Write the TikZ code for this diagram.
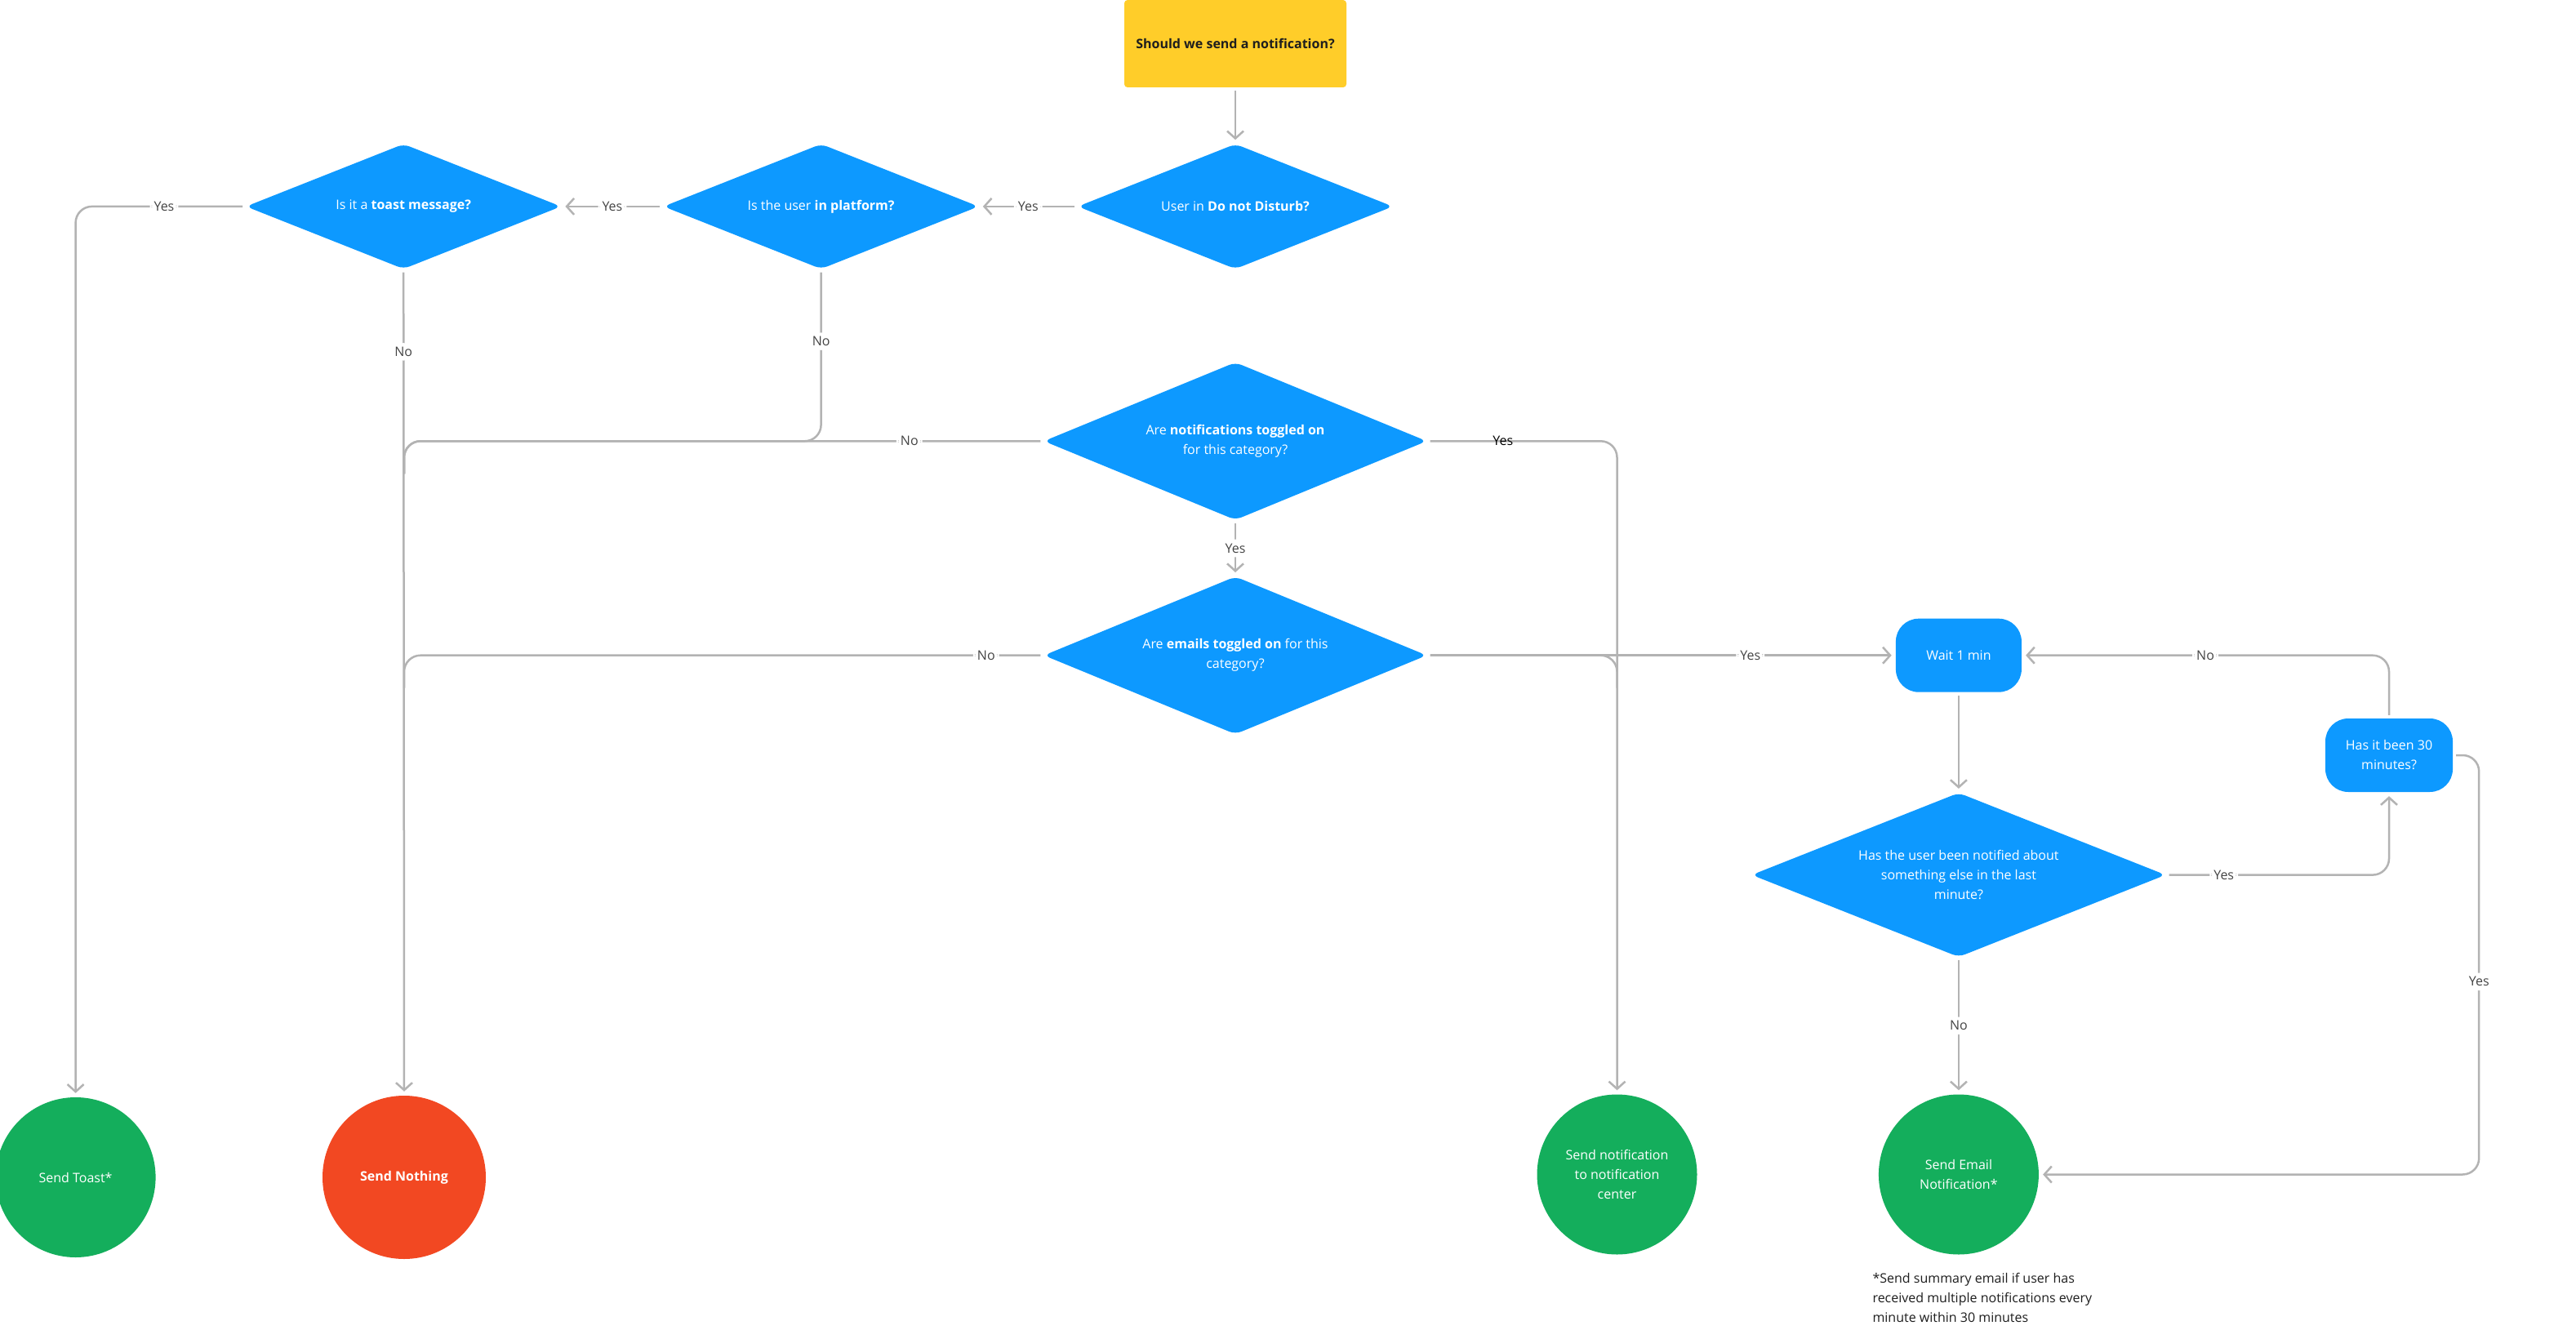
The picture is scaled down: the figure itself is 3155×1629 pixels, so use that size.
\documentclass[tikz,border=0pt]{standalone}
\usepackage{fontspec}
\setmainfont{Open Sans}
\definecolor{FlowYellow}{RGB}{255, 205, 41}
\definecolor{FlowBlue}{RGB}{13, 153, 255}
\definecolor{FlowGreen}{RGB}{20, 174, 92}
\definecolor{FlowRed}{RGB}{242, 72, 34}
\definecolor{LineGray}{RGB}{179, 179, 179}
\definecolor{LabelGray}{RGB}{68, 68, 68}
\definecolor{InkBlack}{RGB}{30, 30, 30}
\usetikzlibrary{arrows.meta, positioning, shapes.geometric}

\begin{document}
\begin{tikzpicture}[x=1pt, y=-1pt,
        every node/.style={font=\fontsize{16}{24}\selectfont},
        startbox/.style={rectangle, rounded corners=4pt, fill=FlowYellow, text=InkBlack, minimum width=272pt, minimum height=107pt, font=\fontsize{16}{24}\selectfont\bfseries},
        decision/.style={diamond, aspect=2.5, inner sep=0pt, rounded corners=8pt, fill=FlowBlue, text=white, align=center},
        waitbox/.style={rectangle, rounded corners=28pt, fill=FlowBlue, text=white, align=center, minimum width=154pt, minimum height=90pt},
        endcircle/.style={circle, inner sep=0pt, minimum size=196pt, text=white, align=center},
        link/.style={draw=LineGray, line width=2.5pt, rounded corners=20pt, shorten <=4pt},
        conn/.style={link, shorten >=5pt, -{Straight Barb[length=9pt, width=20pt]}},
        lbl/.style={fill=white, text=LabelGray, inner sep=5pt}]
    \useasboundingbox[fill=white] (0,0) rectangle (3155,1629);

    \node[startbox] (start) at (1513,53.5) {Should we send a notification?};
    \node[decision, minimum width=386pt, minimum height=153pt, below=69pt of start] (dnd) {User in \textbf{Do not Disturb?}};
    \node[decision, minimum width=386pt, minimum height=153pt, left=121pt of dnd] (platform) {Is the user \textbf{in platform?}};
    \node[decision, minimum width=386pt, minimum height=153pt, left=125pt of platform] (toast) {Is it a \textbf{toast message?}};
    \node[decision, minimum width=469pt, minimum height=193pt, below=114pt of dnd] (notif) {Are \textbf{notifications toggled on}\\for this category?};
    \node[decision, minimum width=469pt, minimum height=193pt, below=69pt of notif] (emails) {Are \textbf{emails toggled on} for this\\category?};
    \node[waitbox, right=574pt of emails] (wait) {Wait 1 min};
    \node[decision, minimum width=507pt, minimum height=201pt, below=123pt of wait] (notified) {Has the user been notified about\\something else in the last\\minute?};
    \node[waitbox, minimum width=156pt] (min30) at (2926,925) {Has it been 30\\minutes?};
    \node[endcircle, fill=FlowGreen, below=168pt of notified] (sendemail) {Send Email\\Notification*};
    \node[endcircle, fill=FlowGreen, left=222pt of sendemail] (sendcenter) {Send notification\\to notification\\center};
    \node[endcircle, fill=FlowRed, minimum size=200pt, font=\fontsize{16}{24}\selectfont\bfseries] (sendnothing) at (495,1442) {Send Nothing};
    \node[endcircle, fill=FlowGreen, left=204pt of sendnothing] (sendtoast) {Send Toast*};
    \node[text=InkBlack, align=left, anchor=north west] (footnote) at (2290,1556) {*Send summary email if user has\\received multiple notifications every\\minute within 30 minutes};

    % main column
    \draw[conn] (start) -- (dnd);
    \draw[conn] (dnd) -- node[lbl] {Yes} (platform);
    \draw[conn] (platform) -- node[lbl] {Yes} (toast);
    \draw[conn] (toast.west) -| node[lbl, pos=0.24] {Yes} (sendtoast.north);
    \draw[conn] (toast.south) -- node[lbl, pos=0.1] {No} (sendnothing.north);
    \draw[conn] (notif) -- node[lbl] {Yes} (emails);

    % branches that join the send nothing line
    \coordinate (mergeA) at (sendnothing.north |- notif.west);
    \coordinate (mergeB) at (sendnothing.north |- emails.west);
    \draw[link] (platform.south) |- node[lbl, pos=0.21] {No} (mergeA) -- ++(0,40);
    \draw[link] (notif.west) -- node[lbl, pos=0.21] {No} (mergeA) -- ++(0,40);
    \draw[link] (emails.west) -- node[lbl, pos=0.09] {No} (mergeB) -- ++(0,40);

    % notification center
    \draw[conn] (notif.east) -| node[pos=0.2, text=black, inner sep=0pt] {Yes} (sendcenter.north);
    \coordinate (mergeC) at (sendcenter.north |- emails.east);
    \draw[link] (emails.east) -- (mergeC) -- ++(0,40);

    % email loop
    \draw[conn] (emails.east) -- node[lbl, pos=0.69] {Yes} (wait.west);
    \draw[conn] (wait) -- (notified);
    \draw[conn] (notified.east) -| node[lbl, pos=0.13] {Yes} (min30.south);
    \draw[conn] (min30.north) |- node[lbl, pos=0.75] {No} (wait.east);
    \draw[conn] (min30.east) -- ++(32,0) |- node[lbl, pos=0.27] {Yes} (sendemail.east);
    \draw[conn] (notified) -- node[lbl] {No} (sendemail);
\end{tikzpicture}
\end{document}
